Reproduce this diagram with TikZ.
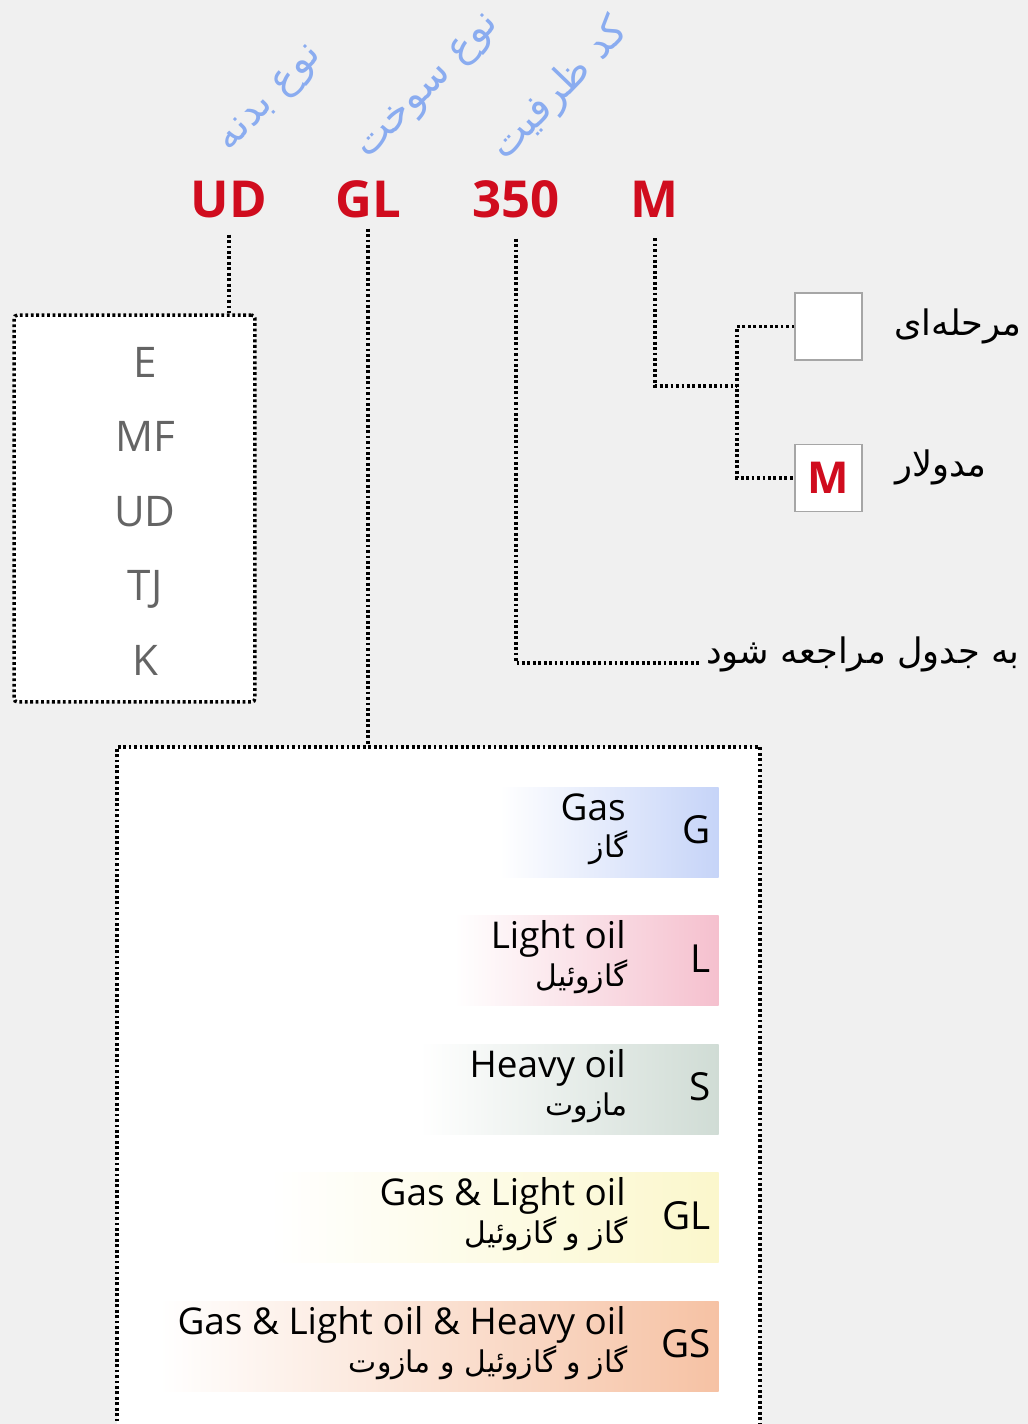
\documentclass[tikz,border=0pt]{standalone}
\usepackage{fontspec}
\setmainfont{Open Sans}
\newfontfamily\persianfont[Script=Arabic]{DejaVu Sans}
\usetikzlibrary{positioning}
\TeXXeTstate=1
\definecolor{pagegray}{RGB}{240,240,240}
\definecolor{codered}{RGB}{208,12,30}
\definecolor{tagblue}{RGB}{138,172,240}
\definecolor{lettergray}{RGB}{100,100,100}
\definecolor{gascol}{RGB}{198,212,248}
\definecolor{lightcol}{RGB}{245,192,206}
\definecolor{heavycol}{RGB}{208,220,213}
\definecolor{glcol}{RGB}{251,247,204}
\definecolor{gscol}{RGB}{246,194,164}

\begin{document}
\begin{tikzpicture}[x=0.02cm, y=-0.02cm,
    code/.style={font=\fontsize{29}{34}\selectfont\bfseries, text=codered, anchor=base},
    tag/.style={font=\persianfont\fontsize{23}{28}\selectfont, text=tagblue, rotate=46},
    dotline/.style={line width=2pt, dash pattern=on 1.6pt off 1.5pt},
    dotbox/.style={dotline, draw, fill=white},
    pickbox/.style={draw=gray!70, fill=white, line width=0.8pt, minimum size=1.34cm, inner sep=0pt},
    faname/.style={font=\persianfont\fontsize{20}{24}\selectfont, inner sep=0pt},
    letter/.style={font=\fontsize{24}{28}\selectfont, text=lettergray, anchor=base},
    fuelrow/.style={minimum height=1.8cm, inner sep=0pt, anchor=north east},
    entext/.style={font=\fontsize{21}{25}\selectfont, anchor=base east, inner sep=0pt},
    fatext/.style={font=\persianfont\fontsize{17}{20}\selectfont, anchor=base east, inner sep=0pt},
    keytext/.style={font=\fontsize{22}{26}\selectfont, anchor=base east, inner sep=0pt}
]
    % page
    \fill[pagegray] (0,0) rectangle (1028,1424);
    \useasboundingbox (0,0) rectangle (1028,1424);

    % model code
    \node[code] (ud) at (229,217) {UD};
    \node[code] (gl) at (368,217) {GL};
    \node[code] (cap) at (516,217) {350};
    \node[code] (mod) at (655,217) {M};

    % rotated headings
    \node[tag] (tagbody) at (272,100) {\beginR نوع بدنه\endR};
    \node[tag] (tagfuel) at (430,88) {\beginR نوع سوخت\endR};
    \node[tag] (tagcap) at (560,90) {\beginR کد ظرفیت\endR};

    % body types
    \node[dotbox, minimum width=4.82cm, minimum height=7.74cm, rounded corners=2pt] (bodybox) at (134.5,508.5) {};
    \foreach \t [count=\i from 0] in {E,MF,UD,TJ,K}
        \node[letter] (body\t) at (145,377+74.5*\i) {\t};

    % fuel types
    \node[dotbox, minimum width=12.86cm, minimum height=13.9cm, anchor=north] (fuelbox) at (438.5,745) {};
    \foreach \key/\en/\fatxt/\col/\w [count=\i from 0] in {
        G/Gas/گاز/gascol/4.38cm,
        L/Light oil/گازوئیل/lightcol/5.28cm,
        S/Heavy oil/مازوت/heavycol/5.98cm,
        GL/Gas \& Light oil/گاز و گازوئیل/glcol/8.98cm,
        GS/Gas \& Light oil \& Heavy oil/گاز و گازوئیل و مازوت/gscol/11.18cm}
    {
        \node[fuelrow, minimum width=\w, left color=white, right color=\col] (row\key) at (719,787+128.5*\i) {};
        \node[entext] at ([xshift=-1.86cm, yshift=-0.66cm]row\key.north east) {\en};
        \node[fatext] at ([xshift=-1.82cm, yshift=-1.42cm]row\key.north east) {\beginR\fatxt\endR};
        \node[keytext] at ([xshift=-0.16cm, yshift=-1.13cm]row\key.north east) {\key};
    }

    % stage / modular
    \node[pickbox] (stagebox) at (828.5,326.5) {};
    \node[pickbox, below=1.66cm of stagebox] (modbox) {\fontsize{25}{30}\selectfont\bfseries\color{codered}M};
    \node[faname, right=0.62cm of stagebox] (stagename) {\beginR مرحله^^^^200cای\endR};
    \node[faname, right=0.64cm of modbox, yshift=0.2cm] (modname) {\beginR مدولار\endR};

    % capacity note
    \node[faname, anchor=base east] (reftext) at (1020,663) {\beginR به جدول مراجعه شود\endR};

    % connectors
    \coordinate (jn) at (737,386);
    \draw[dotline, shorten <=0.22cm] (ud.south) -- (ud.south |- bodybox.north);
    \draw[dotline, shorten <=0.1cm] (gl.south) -- (gl.south |- fuelbox.north);
    \draw[dotline, shorten <=0.3cm] (cap.south) |- ([xshift=-0.12cm]reftext.base west);
    \draw[dotline, shorten <=0.3cm] (mod.south) |- (jn);
    \draw[dotline] (stagebox.west) -| (jn) |- (modbox.west);
\end{tikzpicture}
\end{document}
